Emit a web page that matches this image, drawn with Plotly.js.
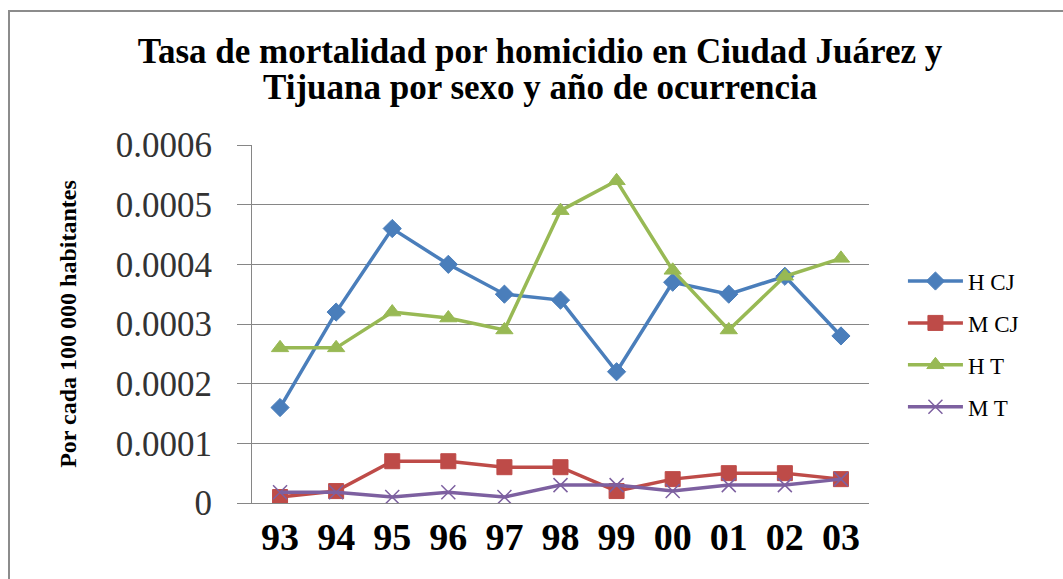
<!DOCTYPE html>
<html><head><meta charset="utf-8">
<script src="https://cdn.plot.ly/plotly-3.0.1.min.js"></script>
<style>
body{margin:0;background:#fff;}
#frame{position:absolute;left:8px;top:10px;width:1100px;height:620px;border:2px solid #8c8c8c;}
#chart{position:absolute;left:0;top:0;width:1063px;height:579px;}
</style></head>
<body><div id="frame"></div><div id="chart"></div>
<script>
const years = ["93","94","95","96","97","98","99","00","01","02","03"];
const hCJ = [0.00016,0.00032,0.00046,0.00040,0.00035,0.00034,0.00022,0.00037,0.00035,0.00038,0.00028];
const mCJ = [0.00001,0.00002,0.00007,0.00007,0.00006,0.00006,0.00002,0.00004,0.00005,0.00005,0.00004];
const hT  = [0.00026,0.00026,0.00032,0.00031,0.00029,0.00049,0.00054,0.00039,0.00029,0.00038,0.00041];
const mT  = [0.000018,0.000018,0.00001,0.000018,0.00001,0.00003,0.00003,0.00002,0.00003,0.00003,0.00004];
const yTicks = [0,0.0001,0.0002,0.0003,0.0004,0.0005,0.0006];
const yTickText = ["0","0.0001","0.0002","0.0003","0.0004","0.0005","0.0006"];
const titleLine1 = "Tasa de mortalidad por homicidio en Ciudad Juárez y";
const titleLine2 = "Tijuana por sexo y año de ocurrencia";

const serif = "Liberation Serif";
function tr(name, y, color, symbol, size, grp, lw){
  return {type:"scatter",mode:"lines+markers",name:name,x:years,y:y,legendgroup:grp,
    line:{color:color,width:3.5},
    marker:{symbol:symbol,size:size,color:color,line:{color:color,width:lw||1}}};
}
const data = [
  tr("H CJ", hCJ, "#4a7ebb", "diamond", 14, "a"),
  tr("M CJ", mCJ, "#be4b48", "square", 15, "b"),
  tr("H T", hT, "#98b954", "triangle-up", 15, "c"),
  tr("M T", mT, "#7d60a0", "x-thin-open", 14, "d", 1.5)
];
const titleFont = {family:"Times New Roman",size:35,color:"#000",weight:"bold"};
const layout = {
  width:1063, height:579,
  font:{family:serif,color:"#000"},
  paper_bgcolor:"rgba(0,0,0,0)", plot_bgcolor:"#fff",
  margin:{l:252,r:194,t:145,b:76},
  title:{text:titleLine1,font:titleFont,x:0.508,xanchor:"center",y:0.912,yanchor:"middle"},
  annotations:[{text:titleLine2,font:titleFont,xref:"paper",yref:"paper",x:0.467,y:1.162,
    xanchor:"center",yanchor:"middle",showarrow:false}],
  xaxis:{type:"category",tickvals:years,ticktext:years.map(s=>"<b>"+s+"</b>"),
    tickfont:{family:serif,size:38,color:"#000"},showgrid:false,showline:true,linecolor:"#868686",linewidth:1,
    ticks:"",range:[-0.5,10.5],fixedrange:true},
  yaxis:{range:[0,0.0006],tickvals:yTicks,ticktext:yTickText,tickfont:{family:serif,size:35,color:"#333"},
    showgrid:true,gridcolor:"#868686",gridwidth:1,showline:true,linecolor:"#868686",linewidth:1,
    ticks:"outside",ticklen:14,tickcolor:"#868686",ticklabelstandoff:18,zeroline:false,
    title:{text:"<b>Por cada 100 000 habitantes</b>",font:{family:serif,size:24,color:"#000"},standoff:32}},
  legend:{x:1.055,xanchor:"left",y:0.68,yanchor:"top",font:{family:serif,size:23,color:"#000"},
    itemwidth:55,tracegroupgap:9,bgcolor:"rgba(0,0,0,0)"},
  showlegend:true
};
Plotly.newPlot("chart",data,layout,{displayModeBar:false,staticPlot:true});
</script></body></html>
